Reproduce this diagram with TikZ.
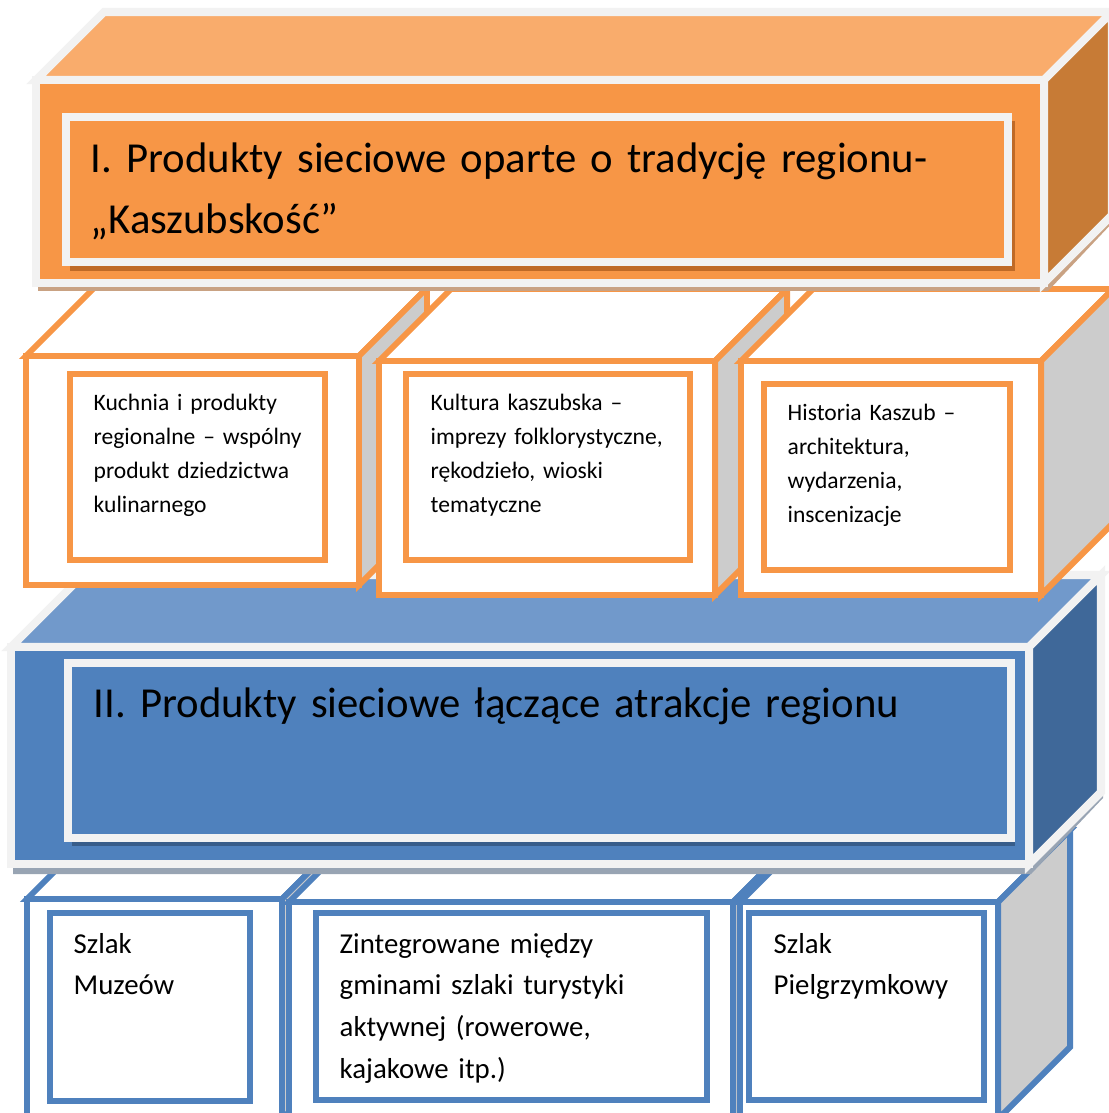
\documentclass[tikz,border=0pt]{standalone}
\usepackage{fontspec}
\setmainfont{Carlito}
\definecolor{orfront}{HTML}{F79646}
\definecolor{ortop}{HTML}{F9AC6C}
\definecolor{orside}{HTML}{C77B36}
\definecolor{ordark}{HTML}{BF6A27}
\definecolor{orshadow}{HTML}{C9A283}
\definecolor{blfront}{HTML}{4F81BD}
\definecolor{bltop}{HTML}{7199CB}
\definecolor{blside}{HTML}{3F6899}
\definecolor{bldark}{HTML}{385D8A}
\definecolor{blshadow}{HTML}{98A4B3}
\definecolor{rim}{HTML}{F2F2F2}
\definecolor{sidegray}{HTML}{CCCCCC}
\begin{document}
\begin{tikzpicture}[x=0.01cm, y=-0.01cm,
  bigface/.style={draw=rim, line width=2.3pt, line join=miter},
  orline/.style={draw=orfront, line width=1.7pt, line join=miter},
  blline/.style={draw=blfront, line width=1.7pt, line join=miter},
  bigtext/.style={anchor=base west, inner sep=0pt, text width=9.6cm, font=\fontsize{12.15}{17.1}\selectfont},
  smalltext/.style={anchor=base west, inner sep=0pt, text width=2.6cm, font=\fontsize{6.7}{9.7}\selectfont},
  lowtext/.style={anchor=base west, inner sep=0pt, text width=3.6cm, font=\fontsize{8.2}{11.9}\selectfont}]
\useasboundingbox (0,0) rectangle (1108,1113);
% lower row of trails
\draw[blline, fill=white] (27,899) -- (99,827) -- (354,827) -- (282,899) -- cycle;
\draw[blline, fill=sidegray] (282,899) -- (354,827) -- (354,1047) -- (282,1119) -- cycle;
\draw[blline, fill=white] (27,899) rectangle (282,1119);
\draw[blline, fill=white] (50,913) rectangle (250,1101);
\node[lowtext] (muzea) at (73,953) {Szlak\\Muzeów};
\draw[blline, fill=white] (289,902) -- (361,830) -- (805,830) -- (733,902) -- cycle;
\draw[blline, fill=sidegray] (733,902) -- (805,830) -- (805,1050) -- (733,1122) -- cycle;
\draw[blline, fill=white] (289,902) rectangle (733,1122);
\draw[blline, fill=white] (316,913) rectangle (707,1100);
\node[lowtext] (szlaki) at (339,953) {Zintegrowane między\\gminami szlaki turystyki\\aktywnej (rowerowe,\\kajakowe itp.)};
\draw[blline, fill=white] (740,902) -- (812,830) -- (1070,830) -- (998,902) -- cycle;
\draw[blline, fill=sidegray] (998,902) -- (1070,830) -- (1070,1047) -- (998,1119) -- cycle;
\draw[blline, fill=white] (740,902) rectangle (998,1119);
\draw[blline, fill=white] (749,913) rectangle (984,1100);
\node[lowtext] (pielgrzymki) at (773,953) {Szlak\\Pielgrzymkowy};
% blue block
\fill[blshadow] (13,700) -- (1031,700) -- (1103,628) -- (1103,798) -- (1031,874) -- (13,874) -- cycle;
\draw[bigface, fill=bltop] (11,647) -- (83,575) -- (1101,575) -- (1029,647) -- cycle;
\draw[bigface, fill=blside] (1029,647) -- (1101,575) -- (1101,792) -- (1029,864) -- cycle;
\draw[bigface, fill=blfront] (11,647) rectangle (1029,864);
\fill[bldark] (72,667) rectangle (1015,846);
\draw[bigface, fill=blfront] (68,663) rectangle (1011,838);
\node[bigtext] (atrakcje) at (93,717) {II. Produkty sieciowe łączące atrakcje regionu};
% upper row of products
\draw[orline, fill=white] (26,356) -- (94,288) -- (427,288) -- (359,356) -- cycle;
\draw[orline, fill=sidegray] (359,356) -- (427,288) -- (427,517) -- (359,585) -- cycle;
\draw[orline, fill=white] (26,356) rectangle (359,585);
\draw[orline, fill=white] (70,374) rectangle (325,560);
\node[smalltext] (kuchnia) at (93,410) {Kuchnia i produkty\\regionalne – wspólny\\produkt dziedzictwa\\kulinarnego};
\draw[orline, fill=white] (379,361) -- (451,289) -- (787,289) -- (715,361) -- cycle;
\draw[orline, fill=sidegray] (715,361) -- (787,289) -- (787,523) -- (715,595) -- cycle;
\draw[orline, fill=white] (379,361) rectangle (715,595);
\draw[orline, fill=white] (406,374) rectangle (690,560);
\node[smalltext] (kultura) at (430,410) {Kultura kaszubska –\\imprezy folklorystyczne,\\rękodzieło, wioski\\tematyczne};
\draw[orline, fill=white] (741,361) -- (813,289) -- (1113,289) -- (1041,361) -- cycle;
\draw[orline, fill=sidegray] (1041,361) -- (1113,289) -- (1113,523) -- (1041,595) -- cycle;
\draw[orline, fill=white] (741,361) rectangle (1041,595);
\draw[orline, fill=white] (764,384) rectangle (1010,570);
\node[smalltext] (historia) at (787,420) {Historia Kaszub –\\architektura,\\wydarzenia,\\inscenizacje};
% orange block
\fill[orshadow] (38,120) -- (1046,120) -- (1114,52) -- (1114,221) -- (1048,291) -- (38,291) -- cycle;
\draw[bigface, fill=ortop] (36,80) -- (104,12) -- (1112,12) -- (1044,80) -- cycle;
\draw[bigface, fill=orside] (1044,80) -- (1112,12) -- (1112,215) -- (1044,283) -- cycle;
\draw[bigface, fill=orfront] (36,80) rectangle (1044,283);
\fill[ordark] (70,121) rectangle (1015,271);
\draw[bigface, fill=orfront] (66,117) rectangle (1008,262);
\node[bigtext] (tradycja) at (90,173) {I. Produkty sieciowe oparte o tradycję regionu-\\„Kaszubskość”};
\end{tikzpicture}
\end{document}
